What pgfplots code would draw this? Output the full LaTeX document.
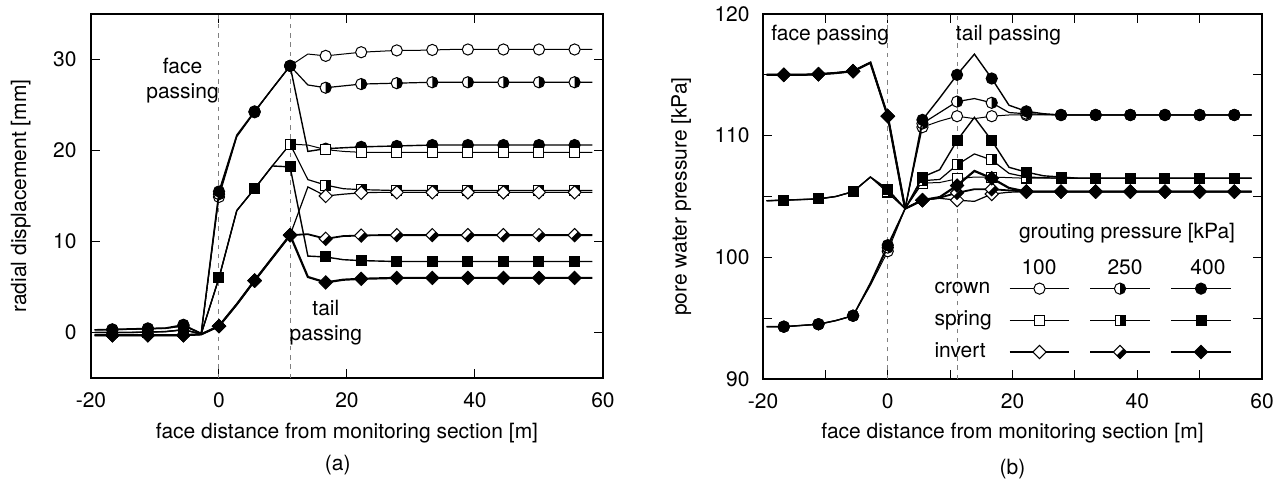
\documentclass[border=0pt]{standalone}
\usepackage{fontspec}
\setmainfont{TeX Gyre Heros}
\usepackage{pgfplots}
\usepackage{pgfplotstable}
\pgfplotsset{compat=1.18}

% ---------- custom marks ----------
\pgfdeclareplotmark{dia}{%
  \pgfpathmoveto{\pgfqpoint{0pt}{\pgfplotmarksize}}%
  \pgfpathlineto{\pgfqpoint{\pgfplotmarksize}{0pt}}%
  \pgfpathlineto{\pgfqpoint{0pt}{-\pgfplotmarksize}}%
  \pgfpathlineto{\pgfqpoint{-\pgfplotmarksize}{0pt}}%
  \pgfpathclose
  \pgfusepathqfillstroke}
\pgfdeclareplotmark{halfcirc}{%
  \begin{pgfscope}\pgfsetfillcolor{white}%
  \pgfpathcircle{\pgfpointorigin}{\pgfplotmarksize}\pgfusepathqfill\end{pgfscope}%
  \begin{pgfscope}\pgfsetfillcolor{black}%
  \pgfpathmoveto{\pgfqpoint{0pt}{\pgfplotmarksize}}%
  \pgfpatharc{90}{-90}{\pgfplotmarksize}\pgfpathclose\pgfusepathqfill\end{pgfscope}%
  \pgfpathcircle{\pgfpointorigin}{\pgfplotmarksize}\pgfusepathqstroke}
\pgfdeclareplotmark{halfsq}{%
  \begin{pgfscope}\pgfsetfillcolor{white}%
  \pgfpathrectanglecorners{\pgfqpoint{-\pgfplotmarksize}{-\pgfplotmarksize}}{\pgfqpoint{\pgfplotmarksize}{\pgfplotmarksize}}\pgfusepathqfill\end{pgfscope}%
  \begin{pgfscope}\pgfsetfillcolor{black}%
  \pgfpathrectanglecorners{\pgfqpoint{0pt}{-\pgfplotmarksize}}{\pgfqpoint{\pgfplotmarksize}{\pgfplotmarksize}}\pgfusepathqfill\end{pgfscope}%
  \pgfpathrectanglecorners{\pgfqpoint{-\pgfplotmarksize}{-\pgfplotmarksize}}{\pgfqpoint{\pgfplotmarksize}{\pgfplotmarksize}}\pgfusepathqstroke}
\pgfdeclareplotmark{halfdia}{%
  \begin{pgfscope}\pgfsetfillcolor{white}%
  \pgfpathmoveto{\pgfqpoint{0pt}{\pgfplotmarksize}}%
  \pgfpathlineto{\pgfqpoint{\pgfplotmarksize}{0pt}}%
  \pgfpathlineto{\pgfqpoint{0pt}{-\pgfplotmarksize}}%
  \pgfpathlineto{\pgfqpoint{-\pgfplotmarksize}{0pt}}%
  \pgfpathclose\pgfusepathqfill\end{pgfscope}%
  \begin{pgfscope}\pgfsetfillcolor{black}%
  \pgfpathmoveto{\pgfqpoint{.5\pgfplotmarksize}{.5\pgfplotmarksize}}%
  \pgfpathlineto{\pgfqpoint{\pgfplotmarksize}{0pt}}%
  \pgfpathlineto{\pgfqpoint{0pt}{-\pgfplotmarksize}}%
  \pgfpathlineto{\pgfqpoint{-.5\pgfplotmarksize}{-.5\pgfplotmarksize}}%
  \pgfpathclose\pgfusepathqfill\end{pgfscope}%
  \pgfpathmoveto{\pgfqpoint{0pt}{\pgfplotmarksize}}%
  \pgfpathlineto{\pgfqpoint{\pgfplotmarksize}{0pt}}%
  \pgfpathlineto{\pgfqpoint{0pt}{-\pgfplotmarksize}}%
  \pgfpathlineto{\pgfqpoint{-\pgfplotmarksize}{0pt}}%
  \pgfpathclose\pgfusepathqstroke}

\pgfplotsset{
  c100/.style={black, line width=0.5pt, mark=*, mark size=2.8pt, mark repeat=2, mark phase=2, mark options={solid, fill=white, line width=0.5pt}},
  c250/.style={black, line width=0.6pt, mark=halfcirc, mark size=2.8pt, mark repeat=2, mark phase=2, mark options={solid, line width=0.5pt}},
  c400/.style={black, line width=0.7pt, mark=*, mark size=2.8pt, mark repeat=2, mark phase=2, mark options={solid, fill=black, line width=0.5pt}},
  s100/.style={black, line width=0.5pt, mark=square*, mark size=2.5pt, mark repeat=2, mark phase=2, mark options={solid, fill=white, line width=0.5pt}},
  s250/.style={black, line width=0.6pt, mark=halfsq, mark size=2.5pt, mark repeat=2, mark phase=2, mark options={solid, line width=0.5pt}},
  s400/.style={black, line width=0.7pt, mark=square*, mark size=2.5pt, mark repeat=2, mark phase=2, mark options={solid, fill=black, line width=0.5pt}},
  i100/.style={black, line width=0.6pt, mark=dia, mark size=3.3pt, mark repeat=2, mark phase=2, mark options={solid, fill=white, line width=0.5pt}},
  i250/.style={black, line width=0.9pt, mark=halfdia, mark size=3.3pt, mark repeat=2, mark phase=2, mark options={solid, line width=0.5pt}},
  i400/.style={black, line width=1.1pt, mark=dia, mark size=3.3pt, mark repeat=2, mark phase=2, mark options={solid, fill=black, line width=0.5pt}},
  passline/.style={gray, line width=0.5pt, dash pattern=on 2.2pt off 2.4pt, mark=none, forget plot},
  myaxis/.style={
    scale only axis,
    clip mode=individual,
    font=\fontsize{10.5}{12.6}\selectfont,
    axis line style={line width=0.8pt},
    tick style={line width=0.5pt, black},
    major tick length=4.5pt,
    tick align=inside,
    xmin=-20, xmax=60,
    xticklabel style={yshift=-3.8pt},
    /pgf/number format/assume math mode=true,
    legend image code/.code={\draw plot coordinates {(0pt,0pt) (14.9pt,0pt) (29.8pt,0pt)};},
  },
}

\pgfplotstableread{
x c100 c250 c400 s100 s250 s400 i100 i250 i400
-19.44 0.30 0.30 0.30 0.00 0.00 0.00 -0.30 -0.30 -0.30
-16.67 0.30 0.30 0.35 0.00 0.00 0.00 -0.30 -0.30 -0.30
-13.89 0.35 0.35 0.40 0.00 0.00 0.00 -0.30 -0.30 -0.30
-11.11 0.40 0.40 0.45 0.05 0.05 0.05 -0.30 -0.30 -0.30
-8.33 0.45 0.45 0.50 0.10 0.10 0.10 -0.30 -0.30 -0.30
-5.56 0.70 0.75 0.85 0.30 0.30 0.30 -0.30 -0.30 -0.30
-2.78 -0.10 -0.10 -0.10 -0.15 -0.15 -0.15 -0.20 -0.20 -0.20
0.00 14.90 15.20 15.50 6.00 6.00 6.00 0.70 0.70 0.70
2.78 21.50 21.60 21.70 13.40 13.40 13.40 3.10 3.10 3.10
5.56 24.20 24.25 24.30 15.80 15.80 15.80 5.70 5.70 5.70
8.33 26.80 26.80 26.80 18.30 18.30 18.30 8.20 8.20 8.20
11.11 29.30 29.30 29.30 20.70 20.70 18.20 10.70 10.70 10.70
13.89 30.60 27.20 19.90 20.60 16.80 8.40 16.00 10.80 6.10
16.67 30.40 26.90 20.20 20.10 16.20 8.30 15.00 10.30 5.50
19.44 30.60 27.10 20.30 19.90 15.80 8.00 15.20 10.60 5.80
22.22 30.80 27.30 20.40 19.80 15.70 7.90 15.35 10.65 5.90
25.00 30.90 27.35 20.45 19.80 15.65 7.85 15.40 10.70 5.95
27.78 31.00 27.40 20.50 19.80 15.60 7.80 15.40 10.70 6.00
30.56 31.00 27.45 20.55 19.80 15.60 7.80 15.40 10.70 6.00
33.33 31.05 27.50 20.60 19.80 15.60 7.80 15.40 10.70 6.00
36.11 31.10 27.50 20.60 19.80 15.60 7.80 15.40 10.70 6.00
38.89 31.10 27.50 20.60 19.80 15.60 7.80 15.40 10.70 6.00
41.67 31.10 27.50 20.60 19.80 15.60 7.80 15.40 10.70 6.00
44.44 31.10 27.50 20.60 19.80 15.60 7.80 15.40 10.70 6.00
47.22 31.10 27.50 20.60 19.80 15.60 7.80 15.40 10.70 6.00
50.00 31.10 27.50 20.60 19.80 15.60 7.80 15.40 10.70 6.00
52.78 31.10 27.50 20.60 19.80 15.60 7.80 15.40 10.70 6.00
55.56 31.10 27.50 20.60 19.80 15.60 7.80 15.40 10.70 6.00
58.33 31.10 27.50 20.60 19.80 15.60 7.80 15.40 10.70 6.00
}\disp

\pgfplotstableread{
x c100 c250 c400 s100 s250 s400 i100 i250 i400
-19.44 94.30 94.30 94.30 104.65 104.65 104.65 115.00 115.00 115.00
-16.67 94.30 94.30 94.30 104.70 104.70 104.70 115.00 115.00 115.00
-13.89 94.40 94.40 94.40 104.75 104.75 104.75 115.00 115.00 115.00
-11.11 94.50 94.50 94.50 104.80 104.80 104.80 115.05 115.05 115.05
-8.33 94.80 94.80 94.80 105.00 105.00 105.00 115.15 115.15 115.15
-5.56 95.20 95.20 95.20 105.40 105.40 105.40 115.30 115.30 115.30
-2.78 97.70 97.80 97.90 106.60 106.60 106.60 116.00 116.00 116.00
0.00 100.50 100.80 101.00 105.30 105.45 105.60 111.60 111.60 111.60
2.78 104.00 104.00 104.00 104.00 104.00 104.00 104.00 104.00 104.00
5.56 110.70 111.00 111.30 106.10 106.30 106.60 104.70 104.70 104.70
8.33 111.20 111.90 113.10 106.15 106.40 107.20 104.85 104.90 104.95
11.11 111.60 112.80 115.00 106.45 107.60 109.60 104.70 105.30 105.90
13.89 111.40 113.05 116.70 106.60 108.50 111.50 104.60 105.60 107.10
16.67 111.60 112.70 114.70 106.60 108.00 109.60 105.20 105.60 106.50
19.44 111.70 111.90 112.50 106.55 106.90 107.40 105.35 105.50 105.70
22.22 111.70 111.80 112.00 106.50 106.60 107.00 105.40 105.40 105.40
25.00 111.70 111.75 111.80 106.50 106.55 106.70 105.40 105.40 105.40
27.78 111.70 111.70 111.70 106.50 106.50 106.60 105.40 105.40 105.40
30.56 111.70 111.70 111.70 106.50 106.50 106.50 105.40 105.40 105.40
33.33 111.70 111.70 111.70 106.50 106.50 106.50 105.40 105.40 105.40
36.11 111.70 111.70 111.70 106.50 106.50 106.50 105.40 105.40 105.40
38.89 111.70 111.70 111.70 106.50 106.50 106.50 105.40 105.40 105.40
41.67 111.70 111.70 111.70 106.50 106.50 106.50 105.40 105.40 105.40
44.44 111.70 111.70 111.70 106.50 106.50 106.50 105.40 105.40 105.40
47.22 111.70 111.70 111.70 106.50 106.50 106.50 105.40 105.40 105.40
50.00 111.70 111.70 111.70 106.50 106.50 106.50 105.40 105.40 105.40
52.78 111.70 111.70 111.70 106.50 106.50 106.50 105.40 105.40 105.40
55.56 111.70 111.70 111.70 106.50 106.50 106.50 105.40 105.40 105.40
58.33 111.70 111.70 111.70 106.50 106.50 106.50 105.40 105.40 105.40
}\pwp

\begin{document}
\begin{tikzpicture}
\useasboundingbox (0,0) rectangle (642.5pt,240.5pt);

% ---------------- (a) ----------------
\begin{axis}[myaxis,
  at={(45.5pt,51.5pt)}, anchor=south west,
  width=256pt, height=182pt,
  ymin=-5, ymax=35,
  xtick={-20,0,20,40,60}, xticklabels={-20,0,20,40,60},
  ytick={0,10,20,30}, yticklabels={0,10,20,30},
  yticklabel style={xshift=-3.7pt},
  xlabel={face distance from monitoring section [m]},
  xlabel style={at={(axis description cs:0.5,0)}, anchor=center, yshift=-27.5pt},
  ylabel={radial displacement [mm]},
  ylabel style={at={(axis description cs:-0.137,0.5)}, anchor=center},
]
\addplot[passline] coordinates {(0,-5) (0,35)};
\addplot[passline] coordinates {(11.11,-5) (11.11,35)};
\addplot[c100] table[x=x,y=c100] {\disp};
\addplot[c250] table[x=x,y=c250] {\disp};
\addplot[c400] table[x=x,y=c400] {\disp};
\addplot[s100] table[x=x,y=s100] {\disp};
\addplot[s250] table[x=x,y=s250] {\disp};
\addplot[s400] table[x=x,y=s400] {\disp};
\addplot[i100] table[x=x,y=i100] {\disp};
\addplot[i250] table[x=x,y=i250] {\disp};
\addplot[i400] table[x=x,y=i400] {\disp};
\node[align=center, font=\fontsize{10.5}{12.5}\selectfont] at (axis cs:-5.7,27.66) {face\\passing};
\node[align=center, font=\fontsize{10.5}{12.5}\selectfont] at (axis cs:16.7,1.05) {tail\\passing};
\node[font=\fontsize{10.5}{12.6}\selectfont] at (axis description cs:0.482,0) [yshift=-43.5pt] {(a)};
\end{axis}

% ---------------- (b) ----------------
\begin{axis}[myaxis,
  at={(381.5pt,51pt)}, anchor=south west,
  width=249.5pt, height=182.5pt,
  ymin=90, ymax=120,
  xtick={-20,-10,...,60}, xticklabels={-20,,0,,20,,40,,60},
  ytick={90,95,...,120}, yticklabels={90,,100,,110,,120},
  yticklabel style={xshift=-3.2pt},
  xlabel={face distance from monitoring section [m]},
  xlabel style={at={(axis description cs:0.5,0)}, anchor=center, yshift=-27pt},
  ylabel={pore water pressure [kPa]},
  ylabel style={at={(axis description cs:-0.164,0.5)}, anchor=center},
  legend columns=4,
  legend cell align=left,
  legend style={draw=none, fill=none, at={(0.3437,0.2736)}, anchor=north west,
    inner sep=0pt, outer sep=0pt, column sep=0pt, row sep=6.35pt,
    nodes={inner sep=0pt, text height=7.4pt, text depth=2.1pt},
    /tikz/every even column/.append style={column sep=8.7pt},
    font=\fontsize{10.5}{12.6}\selectfont},
]
\addplot[passline] coordinates {(0,90) (0,120)};
\addplot[passline] coordinates {(11.11,90) (11.11,120)};
\addplot[c100, forget plot] table[x=x,y=c100] {\pwp};
\addplot[c250, forget plot] table[x=x,y=c250] {\pwp};
\addplot[c400, forget plot] table[x=x,y=c400] {\pwp};
\addplot[s100, forget plot] table[x=x,y=s100] {\pwp};
\addplot[s250, forget plot] table[x=x,y=s250] {\pwp};
\addplot[s400, forget plot] table[x=x,y=s400] {\pwp};
\addplot[i100, forget plot] table[x=x,y=i100] {\pwp};
\addplot[i250, forget plot] table[x=x,y=i250] {\pwp};
\addplot[i400, forget plot] table[x=x,y=i400] {\pwp};
\addlegendimage{empty legend}\addlegendentry{crown}
\addlegendimage{c100}\addlegendentry{}
\addlegendimage{c250}\addlegendentry{}
\addlegendimage{c400}\addlegendentry{}
\addlegendimage{empty legend}\addlegendentry{spring}
\addlegendimage{s100}\addlegendentry{}
\addlegendimage{s250}\addlegendentry{}
\addlegendimage{s400}\addlegendentry{}
\addlegendimage{empty legend}\addlegendentry{invert}
\addlegendimage{i100}\addlegendentry{}
\addlegendimage{i250}\addlegendentry{}
\addlegendimage{i400}\addlegendentry{}
\node at (axis cs:-9.23,118.24) {face passing};
\node at (axis cs:19.36,118.24) {tail passing};
\node[anchor=base] at (axis cs:38.36,101.58) {grouting pressure [kPa]};
\node[anchor=base] at (axis cs:24.25,98.55) {100};
\node[anchor=base] at (axis cs:38.04,98.55) {250};
\node[anchor=base] at (axis cs:51.34,98.55) {400};
\node at (axis description cs:0.5,0) [yshift=-45pt] {(b)};
\end{axis}
\end{tikzpicture}
\end{document}
